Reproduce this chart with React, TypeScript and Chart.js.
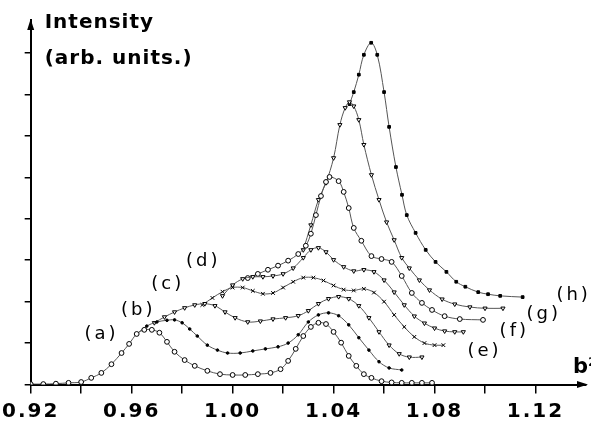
import React, { useEffect, useRef } from 'react';
import { Chart, registerables } from 'chart.js';

Chart.register(...registerables);

const FONT = "'DejaVu Sans', 'Liberation Sans', Arial, sans-serif";

// x-axis ticks
const majorTicks = [0.92, 0.96, 1.0, 1.04, 1.08, 1.12];
const majorLabels = ['0.92', '0.96', '1.00', '1.04', '1.08', '1.12'];
const minorTicks = [0.94, 0.98, 1.02, 1.06, 1.1];
const yTicks = [0, 1, 2, 3, 4, 5, 6, 7, 8];

const yTitle = ['Intensity', '(arb. units.)'];
const xTitle = 'b²';

// curve (a)
const aX = [0.92, 0.925, 0.93, 0.935, 0.94, 0.944, 0.948, 0.952, 0.956, 0.959, 0.962, 0.965, 0.968, 0.971, 0.974, 0.977, 0.981, 0.985, 0.99, 0.995, 1.0, 1.005, 1.01, 1.015, 1.019, 1.022, 1.025, 1.028, 1.031, 1.034, 1.037, 1.04, 1.043, 1.046, 1.049, 1.052, 1.055, 1.059, 1.063, 1.067, 1.071, 1.075, 1.079];
const aY = [0.01, 0.01, 0.02, 0.04, 0.06, 0.16, 0.28, 0.49, 0.76, 0.98, 1.22, 1.32, 1.32, 1.25, 1.03, 0.79, 0.59, 0.45, 0.33, 0.25, 0.23, 0.23, 0.25, 0.28, 0.37, 0.57, 0.86, 1.17, 1.39, 1.49, 1.46, 1.27, 1.01, 0.69, 0.45, 0.25, 0.16, 0.08, 0.05, 0.04, 0.04, 0.04, 0.04];
// curve (b)
const bX = [0.962, 0.966, 0.97, 0.974, 0.977, 0.98, 0.983, 0.986, 0.99, 0.994, 0.998, 1.003, 1.008, 1.013, 1.018, 1.022, 1.026, 1.03, 1.034, 1.038, 1.042, 1.046, 1.05, 1.054, 1.058, 1.062, 1.067];
const bY = [1.22, 1.41, 1.51, 1.55, 1.56, 1.49, 1.34, 1.17, 0.95, 0.83, 0.76, 0.76, 0.81, 0.86, 0.91, 1.0, 1.2, 1.51, 1.68, 1.73, 1.66, 1.44, 1.13, 0.83, 0.55, 0.4, 0.35];
// curve (c)
const cX = [0.969, 0.973, 0.977, 0.981, 0.985, 0.989, 0.993, 0.997, 1.001, 1.006, 1.011, 1.016, 1.021, 1.026, 1.03, 1.034, 1.038, 1.042, 1.046, 1.05, 1.054, 1.058, 1.062, 1.066, 1.07, 1.075];
const cY = [1.49, 1.63, 1.75, 1.85, 1.92, 1.95, 1.9, 1.75, 1.61, 1.51, 1.53, 1.58, 1.61, 1.66, 1.78, 1.95, 2.07, 2.12, 2.07, 1.9, 1.61, 1.27, 0.95, 0.74, 0.66, 0.66];
// curve (d)
const dX = [0.988, 0.992, 0.996, 1.0, 1.004, 1.008, 1.012, 1.016, 1.02, 1.024, 1.028, 1.032, 1.036, 1.04, 1.044, 1.048, 1.052, 1.056, 1.06, 1.064, 1.068, 1.072, 1.076, 1.08, 1.0835];
const dY = [1.92, 2.09, 2.24, 2.34, 2.34, 2.26, 2.19, 2.21, 2.34, 2.48, 2.58, 2.58, 2.51, 2.39, 2.29, 2.27, 2.31, 2.22, 2.0, 1.68, 1.39, 1.15, 1.0, 0.95, 0.95];
// curve (e)
const eX = [0.996, 1.0, 1.004, 1.008, 1.012, 1.016, 1.02, 1.024, 1.028, 1.031, 1.034, 1.037, 1.04, 1.044, 1.048, 1.052, 1.056, 1.06, 1.064, 1.068, 1.072, 1.076, 1.08, 1.084, 1.088, 1.0914];
const eY = [2.14, 2.4, 2.55, 2.6, 2.6, 2.62, 2.67, 2.81, 3.06, 3.25, 3.3, 3.2, 3.01, 2.84, 2.74, 2.77, 2.72, 2.52, 2.23, 1.92, 1.65, 1.48, 1.36, 1.29, 1.27, 1.27];
// curve (f)
const fX = [1.006, 1.01, 1.014, 1.018, 1.022, 1.026, 1.029, 1.031, 1.033, 1.035, 1.037, 1.0384, 1.042, 1.044, 1.046, 1.048, 1.051, 1.055, 1.059, 1.063, 1.067, 1.071, 1.075, 1.079, 1.084, 1.09, 1.0992];
const fY = [2.57, 2.67, 2.77, 2.87, 2.99, 3.15, 3.35, 3.64, 4.09, 4.55, 4.89, 5.01, 4.91, 4.65, 4.26, 3.78, 3.47, 3.1, 3.03, 2.96, 2.62, 2.21, 1.97, 1.8, 1.65, 1.58, 1.56];
// curve (g)
const gX = [1.028, 1.031, 1.034, 1.037, 1.04, 1.0425, 1.0446, 1.0463, 1.048, 1.05, 1.052, 1.055, 1.058, 1.061, 1.064, 1.067, 1.07, 1.074, 1.078, 1.083, 1.088, 1.094, 1.1, 1.1071];
const gY = [3.25, 3.85, 4.46, 4.87, 5.47, 6.27, 6.68, 6.82, 6.72, 6.39, 5.79, 5.06, 4.46, 3.92, 3.49, 3.06, 2.81, 2.52, 2.28, 2.06, 1.94, 1.87, 1.84, 1.84];
// curve (h)
const hX = [1.0463, 1.048, 1.05, 1.052, 1.0549, 1.0573, 1.06, 1.062, 1.0647, 1.0671, 1.069, 1.0725, 1.0765, 1.0804, 1.0847, 1.0886, 1.0922, 1.0973, 1.1012, 1.106, 1.1149];
const hY = [6.77, 7.06, 7.48, 7.96, 8.25, 7.96, 7.06, 6.22, 5.25, 4.58, 4.09, 3.66, 3.25, 2.96, 2.72, 2.48, 2.36, 2.23, 2.18, 2.14, 2.11];

// curve labels
const curveLabels = ['(a)', '(b)', '(c)', '(d)', '(e)', '(f)', '(g)', '(h)'];
const labelX = [0.9475, 0.962, 0.9737, 0.9878, 1.0992, 1.111, 1.1227, 1.1345];
const labelY = [1.2, 1.8, 2.43, 2.98, 0.79, 1.29, 1.7, 2.16];

type MarkerStyle = { pointStyle: string; radius: number; fill: string; rotation: number };
const markers: MarkerStyle[] = [
  { pointStyle: 'circle', radius: 2.4, fill: '#fff', rotation: 0 },
  { pointStyle: 'circle', radius: 1.3, fill: '#000', rotation: 0 },
  { pointStyle: 'triangle', radius: 2.4, fill: '#fff', rotation: 180 },
  { pointStyle: 'crossRot', radius: 2.6, fill: '#000', rotation: 0 },
  { pointStyle: 'triangle', radius: 2.4, fill: '#fff', rotation: 180 },
  { pointStyle: 'circle', radius: 2.4, fill: '#fff', rotation: 0 },
  { pointStyle: 'triangle', radius: 2.4, fill: '#fff', rotation: 180 },
  { pointStyle: 'rect', radius: 1.9, fill: '#000', rotation: 0 },
];

const seriesX = [aX, bX, cX, dX, eX, fX, gX, hX];
const seriesY = [aY, bY, cY, dY, eY, fY, gY, hY];

const tickValues = [...majorTicks, ...minorTicks].sort((p, q) => p - q);

const overlayPlugin = {
  id: 'overlay',
  afterDraw(chart: any) {
    const ctx = chart.ctx as CanvasRenderingContext2D;
    const { left, right, top, bottom } = chart.chartArea;
    const xs = chart.scales.x;
    const ys = chart.scales.y;
    ctx.save();
    ctx.fillStyle = '#000';
    ctx.strokeStyle = '#000';
    // arrows
    ctx.beginPath();
    ctx.moveTo(right + 2, bottom);
    ctx.lineTo(right - 9, bottom - 3.5);
    ctx.lineTo(right - 9, bottom + 3.5);
    ctx.closePath();
    ctx.fill();
    ctx.beginPath();
    ctx.moveTo(left, top - 1);
    ctx.lineTo(left - 3.5, top + 10);
    ctx.lineTo(left + 3.5, top + 10);
    ctx.closePath();
    ctx.fill();

    // axis titles
    (ctx as any).letterSpacing = '1px';
    ctx.font = `bold 20px ${FONT}`;
    ctx.textAlign = 'left';
    ctx.textBaseline = 'alphabetic';
    ctx.fillText(yTitle[0], left + 14, top + 8);
    ctx.fillText(yTitle[1], left + 14, top + 44);
    ctx.font = `bold 21px ${FONT}`;
    (ctx as any).letterSpacing = '0px';
    ctx.fillText(xTitle, right - 13, bottom - 12);

    // curve labels
    (ctx as any).letterSpacing = '3px';
    ctx.font = `18px ${FONT}`;
    ctx.textAlign = 'center';
    ctx.textBaseline = 'middle';
    curveLabels.forEach((t, i) => {
      ctx.fillText(t, xs.getPixelForValue(labelX[i]) + 1.5, ys.getPixelForValue(labelY[i]));
    });
    (ctx as any).letterSpacing = '0px';
    ctx.restore();
  },
};

const spacingPlugin = {
  id: 'spacing',
  beforeDraw(chart: any) {
    (chart.ctx as any).letterSpacing = '2px';
  },
  beforeDatasetsDraw(chart: any) {
    (chart.ctx as any).letterSpacing = '0px';
  },
};

export default function App() {
  const ref = useRef<HTMLCanvasElement | null>(null);
  useEffect(() => {
    if (!ref.current) return;
    const datasets = seriesX.map((xsArr, i) => ({
      label: curveLabels[i],
      data: xsArr.map((x, j) => ({ x, y: seriesY[i][j] })),
      borderColor: '#555',
      borderWidth: 1,
      tension: 0.35,
      pointStyle: markers[i].pointStyle,
      pointRadius: markers[i].radius,
      pointRotation: markers[i].rotation,
      pointBackgroundColor: markers[i].fill,
      pointBorderColor: '#000',
      pointBorderWidth: 1,
      fill: false,
    }));
    const chart = new Chart(ref.current, {
      type: 'line',
      data: { datasets },
      options: {
        responsive: false,
        animation: false,
        events: [],
        layout: { padding: { top: 20, right: 2, left: 0, bottom: 0 } },
        plugins: {
          legend: { display: false },
          tooltip: { enabled: false },
          title: { display: false },
        },
        scales: {
          x: {
            type: 'linear',
            min: 0.92,
            max: 1.14,
            afterBuildTicks: (s: any) => {
              s.ticks = tickValues.map((v) => ({ value: v }));
            },
            afterFit: (s: any) => {
              s.height = 41.5;
            },
            ticks: {
              autoSkip: false,
              maxRotation: 0,
              minRotation: 0,
              padding: 6,
              color: '#000',
              font: { family: FONT, size: 20, weight: 'bold' },
              callback: (v: any) => {
                const k = majorTicks.findIndex((m) => Math.abs(m - Number(v)) < 1e-6);
                return k >= 0 ? majorLabels[k] : '';
              },
            },
            grid: { drawOnChartArea: false, drawTicks: true, tickLength: 9, color: '#000', lineWidth: 1.5 },
            border: { display: true, color: '#000', width: 2 },
          },
          y: {
            type: 'linear',
            min: 0,
            max: 8.8,
            afterBuildTicks: (s: any) => {
              s.ticks = yTicks.map((v) => ({ value: v }));
            },
            afterFit: (s: any) => {
              s.width = 28;
            },
            ticks: { display: false },
            grid: { drawOnChartArea: false, drawTicks: true, tickLength: 6, color: '#000', lineWidth: 1.5 },
            border: { display: true, color: '#000', width: 2 },
          },
        },
      } as any,
      plugins: [spacingPlugin, overlayPlugin],
    });
    return () => chart.destroy();
  }, []);
  return (
    <div style={{ position: 'fixed', left: 0, top: 0, width: 591, height: 426, background: '#fff' }}>
      <canvas ref={ref} width={591} height={426} style={{ width: 591, height: 426, display: 'block' }} />
    </div>
  );
}
